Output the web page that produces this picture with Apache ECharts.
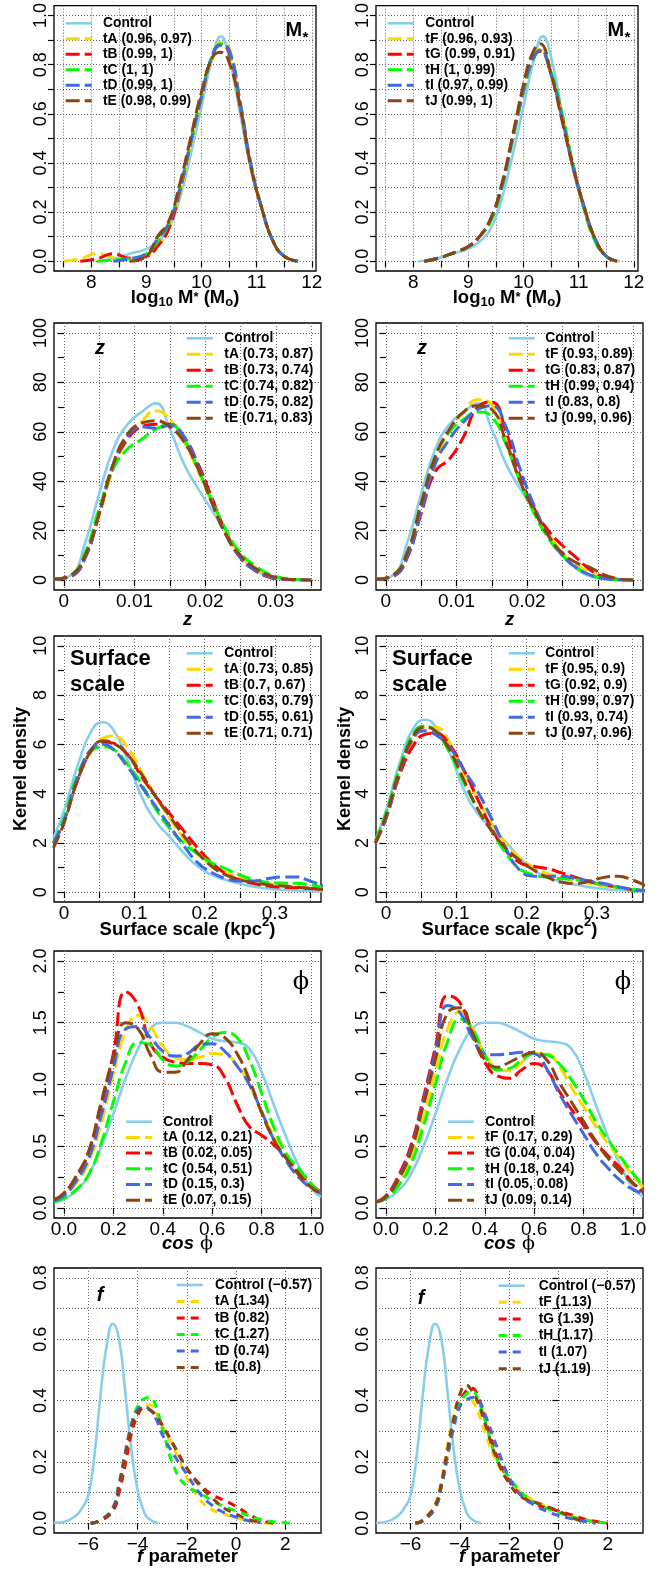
<!DOCTYPE html>
<html><head><meta charset="utf-8">
<script src="https://cdn.jsdelivr.net/npm/echarts@6/dist/echarts.min.js"></script>
<style>html,body{margin:0;padding:0;background:#fff}#c{width:664px;height:1573px}</style>
</head><body><div id="c"></div>
<script>
// ---------------- DATA ----------------
// Panel 1/2 : stellar mass
const mX  = [7.5, 7.8, 8.1, 8.4, 8.7, 9.0, 9.2, 9.4, 9.6, 9.8, 10.0, 10.2, 10.35, 10.5, 10.7, 10.9, 11.1, 11.3, 11.5, 11.75];
const mCtrl = [null, null, 0.0, 0.01, 0.03, 0.05, 0.08, 0.13, 0.25, 0.43, 0.63, 0.83, 0.915, 0.83, 0.6, 0.37, 0.21, 0.08, 0.02, 0.0];
const m1_tA = [0, 0.01, 0.03, 0.015, 0.01, 0.02, 0.06, 0.13, 0.27, 0.47, 0.66, 0.83, 0.89, 0.87, 0.64, 0.39, 0.21, 0.08, 0.02, 0];
const m1_tB = [null, 0, 0.01, 0.03, 0.012, 0.02, 0.06, 0.13, 0.28, 0.48, 0.67, 0.84, 0.88, 0.85, 0.63, 0.38, 0.21, 0.08, 0.02, 0];
const m1_tC = [null, null, 0, 0.005, 0.01, 0.03, 0.08, 0.15, 0.29, 0.48, 0.67, 0.84, 0.885, 0.86, 0.64, 0.38, 0.21, 0.08, 0.02, 0];
const m1_tD = [null, null, null, 0, 0.01, 0.03, 0.09, 0.15, 0.29, 0.48, 0.67, 0.84, 0.88, 0.86, 0.65, 0.39, 0.21, 0.08, 0.02, 0];
const m1_tE = [null, null, null, null, 0, 0.02, 0.1, 0.16, 0.31, 0.5, 0.69, 0.83, 0.85, 0.81, 0.63, 0.38, 0.21, 0.08, 0.02, 0];
const m2X  = [8.2, 8.5, 8.8, 9.0, 9.2, 9.4, 9.6, 9.8, 10.0, 10.15, 10.3, 10.5, 10.7, 10.9, 11.1, 11.3, 11.5, 11.7];
const m2_tF = [0, 0.015, 0.04, 0.06, 0.1, 0.17, 0.3, 0.5, 0.7, 0.82, 0.87, 0.76, 0.58, 0.38, 0.22, 0.09, 0.02, 0];
const m2_tG = [0, 0.015, 0.04, 0.06, 0.1, 0.17, 0.3, 0.5, 0.69, 0.81, 0.855, 0.76, 0.59, 0.39, 0.22, 0.09, 0.02, 0];
const m2_tH = [0, 0.015, 0.04, 0.06, 0.1, 0.16, 0.29, 0.49, 0.69, 0.81, 0.86, 0.77, 0.6, 0.39, 0.21, 0.08, 0.02, 0];
const m2_tI = [0, 0.015, 0.04, 0.06, 0.1, 0.17, 0.3, 0.5, 0.7, 0.815, 0.86, 0.76, 0.58, 0.38, 0.22, 0.09, 0.02, 0];
const m2_tJ = [0, 0.015, 0.04, 0.06, 0.1, 0.17, 0.31, 0.51, 0.72, 0.84, 0.885, 0.76, 0.57, 0.38, 0.22, 0.09, 0.02, 0];

// Panel 3/4 : redshift z
const zX   = [-0.0015, 0.001, 0.003, 0.005, 0.007, 0.009, 0.011, 0.013, 0.015, 0.017, 0.019, 0.021, 0.023, 0.025, 0.027, 0.029, 0.031, 0.033, 0.035];
const zCtrl = [0.3, 2, 15, 35, 53, 63, 68, 71.5, 61, 47, 37, 28, 19, 10, 4.5, 1.5, 0.4, 0.1, null];
const z3_tA = [0.3, 1.5, 9, 26, 45, 57, 64, 68.5, 65, 56, 44, 31, 19, 10, 5, 2, 0.7, 0.2, 0];
const z3_tB = [0.3, 1.5, 9, 27, 46, 57, 62, 63, 63, 58, 47, 33, 19, 9, 4, 1.2, 0.3, 0, null];
const z3_tC = [0.3, 2, 11, 29, 45, 53, 57, 61, 63, 57, 45, 32, 20, 11, 6, 2.5, 0.8, 0.2, 0];
const z3_tD = [0.3, 1.5, 9, 27, 47, 58, 62, 61.5, 62.5, 58, 46, 31, 18, 9, 4, 1.5, 0.5, 0.1, 0];
const z3_tE = [0.3, 2, 10, 27, 47, 59, 63.5, 64.5, 62, 56, 45, 31, 18, 10, 5, 2, 0.6, 0.2, 0];
const z4_tF = [0.3, 1.5, 10, 29, 48, 60, 68, 73, 71, 56, 40, 28, 19, 11, 6, 3, 1, 0.3, 0];
const z4_tG = [0.3, 1.5, 9, 27, 44, 49, 58, 70, 72, 60, 42, 29, 20, 14, 9, 4, 1.2, 0.3, 0];
const z4_tH = [0.3, 2, 11, 31, 50, 60, 65, 68, 66, 55, 40, 27, 17, 10, 5, 2, 0.6, 0.1, 0];
const z4_tI = [0.3, 1.5, 9, 28, 47, 57, 64, 69, 70.5, 62, 45, 30, 18, 10, 5, 2, 0.6, 0.1, 0];
const z4_tJ = [0.3, 2, 11, 31, 50, 61, 68, 70.5, 69, 56, 40, 28, 18, 11, 7, 5, 2, 0.5, 0];

// Panel 5/6 : surface scale
const sX   = [-0.015, 0, 0.02, 0.04, 0.055, 0.07, 0.09, 0.11, 0.13, 0.15, 0.17, 0.19, 0.21, 0.23, 0.25, 0.27, 0.29, 0.31, 0.33, 0.35, 0.37];
const s5_ctrl = [2.2, 3.3, 5.2, 6.6, 6.9, 6.6, 5.4, 3.9, 2.9, 2.25, 1.6, 1.05, 0.7, 0.5, 0.35, 0.22, 0.14, 0.1, 0.07, 0.05, 0.04];
const s5_tA = [2.0, 2.9, 4.6, 5.8, 6.25, 6.35, 5.9, 4.9, 3.9, 3.0, 2.2, 1.55, 1.1, 0.8, 0.6, 0.45, 0.35, 0.28, 0.22, 0.16, 0.12];
const s5_tB = [2.0, 2.9, 4.6, 5.8, 6.1, 6.05, 5.6, 4.7, 3.9, 3.2, 2.5, 1.8, 1.2, 0.75, 0.5, 0.35, 0.25, 0.2, 0.18, 0.15, 0.12];
const s5_tC = [2.0, 3.0, 4.8, 5.75, 5.9, 5.8, 5.2, 4.4, 3.4, 2.6, 2.0, 1.55, 1.2, 0.95, 0.7, 0.5, 0.4, 0.37, 0.36, 0.3, 0.2];
const s5_tD = [2.0, 2.9, 4.7, 5.85, 6.0, 5.8, 5.1, 4.3, 3.5, 2.7, 1.9, 1.2, 0.8, 0.55, 0.45, 0.45, 0.55, 0.62, 0.62, 0.45, 0.25];
const s5_tE = [1.8, 2.8, 4.6, 5.8, 6.15, 6.05, 5.6, 4.8, 3.9, 3.1, 2.3, 1.6, 1.05, 0.7, 0.5, 0.38, 0.3, 0.25, 0.2, 0.15, 0.1];
const s6_ctrl = [2.1, 3.3, 5.3, 6.7, 7.0, 6.75, 5.7, 4.2, 3.2, 2.6, 2.05, 1.4, 0.9, 0.6, 0.42, 0.3, 0.2, 0.13, 0.08, 0.05, 0.03];
const s6_tF = [2.0, 3.0, 4.8, 6.2, 6.7, 6.7, 6.1, 4.9, 3.8, 2.8, 2.0, 1.4, 1.0, 0.75, 0.6, 0.45, 0.35, 0.25, 0.18, 0.1, 0.05];
const s6_tG = [2.0, 3.0, 4.8, 6.0, 6.4, 6.45, 6.0, 5.0, 3.8, 2.6, 1.7, 1.2, 1.05, 0.95, 0.78, 0.6, 0.42, 0.3, 0.2, 0.1, 0.05];
const s6_tH = [2.1, 3.2, 5.1, 6.5, 6.75, 6.55, 5.7, 4.5, 3.4, 2.5, 1.6, 0.95, 0.7, 0.6, 0.55, 0.5, 0.42, 0.3, 0.2, 0.12, 0.06];
const s6_tI = [2.0, 3.0, 4.9, 6.3, 6.55, 6.4, 5.9, 5.0, 4.1, 3.0, 1.8, 0.9, 0.65, 0.65, 0.65, 0.55, 0.45, 0.35, 0.22, 0.12, 0.05];
const s6_tJ = [2.0, 3.1, 5.0, 6.4, 6.7, 6.55, 5.8, 4.6, 3.4, 2.5, 1.8, 1.3, 0.9, 0.6, 0.4, 0.35, 0.45, 0.6, 0.65, 0.5, 0.25];

// Panel 7/8 : cos phi
const pX   = [-0.04, 0, 0.05, 0.1, 0.15, 0.2, 0.25, 0.3, 0.35, 0.4, 0.45, 0.5, 0.55, 0.6, 0.65, 0.7, 0.75, 0.8, 0.85, 0.9, 0.95, 1.0, 1.04];
const pCtrl = [0.05, 0.07, 0.14, 0.27, 0.49, 0.76, 1.05, 1.29, 1.45, 1.5, 1.5, 1.47, 1.42, 1.37, 1.35, 1.34, 1.29, 1.1, 0.83, 0.57, 0.34, 0.16, 0.09];
const p7_tA = [0.06, 0.1, 0.2, 0.37, 0.68, 1.08, 1.43, 1.56, 1.47, 1.31, 1.22, 1.2, 1.22, 1.25, 1.24, 1.16, 1.0, 0.78, 0.58, 0.42, 0.27, 0.16, 0.11];
const p7_tB = [0.06, 0.12, 0.25, 0.45, 0.82, 1.25, 1.75, 1.64, 1.33, 1.22, 1.18, 1.17, 1.17, 1.16, 1.06, 0.84, 0.66, 0.59, 0.51, 0.41, 0.29, 0.19, 0.13];
const p7_tC = [0.05, 0.08, 0.15, 0.27, 0.52, 0.86, 1.18, 1.34, 1.32, 1.2, 1.15, 1.18, 1.28, 1.38, 1.42, 1.38, 1.2, 0.93, 0.65, 0.44, 0.32, 0.2, 0.12];
const p7_tD = [0.06, 0.1, 0.22, 0.4, 0.74, 1.13, 1.45, 1.47, 1.38, 1.27, 1.23, 1.25, 1.32, 1.33, 1.27, 1.15, 1.0, 0.78, 0.55, 0.38, 0.25, 0.16, 0.12];
const p7_tE = [0.07, 0.12, 0.26, 0.46, 0.85, 1.22, 1.5, 1.45, 1.24, 1.1, 1.1, 1.2, 1.33, 1.41, 1.38, 1.25, 1.04, 0.77, 0.55, 0.4, 0.27, 0.17, 0.12];
const p8_tF = [0.05, 0.08, 0.2, 0.4, 0.72, 1.1, 1.45, 1.59, 1.45, 1.25, 1.13, 1.11, 1.18, 1.25, 1.25, 1.15, 0.98, 0.82, 0.66, 0.52, 0.39, 0.26, 0.17];
const p8_tG = [0.05, 0.1, 0.26, 0.5, 0.88, 1.3, 1.72, 1.66, 1.4, 1.18, 1.07, 1.05, 1.12, 1.17, 1.12, 0.95, 0.8, 0.67, 0.53, 0.42, 0.32, 0.2, 0.13];
const p8_tH = [0.05, 0.08, 0.18, 0.35, 0.65, 1.0, 1.35, 1.53, 1.45, 1.24, 1.12, 1.13, 1.2, 1.25, 1.24, 1.17, 1.04, 0.88, 0.7, 0.55, 0.41, 0.28, 0.18];
const p8_tI = [0.05, 0.09, 0.24, 0.47, 0.85, 1.25, 1.64, 1.58, 1.38, 1.25, 1.24, 1.25, 1.26, 1.25, 1.13, 0.93, 0.76, 0.6, 0.44, 0.32, 0.22, 0.15, 0.12];
const p8_tJ = [0.05, 0.09, 0.23, 0.45, 0.82, 1.2, 1.58, 1.62, 1.42, 1.2, 1.14, 1.18, 1.23, 1.26, 1.2, 1.02, 0.86, 0.7, 0.54, 0.4, 0.29, 0.2, 0.14];

// Panel 9/10 : f parameter
const fCX  = [-7.4, -7, -6.5, -6.25, -6, -5.75, -5.5, -5.25, -5, -4.75, -4.5, -4.25, -4, -3.75, -3.5, -3.15];
const fCtrl = [0.001, 0.004, 0.025, 0.05, 0.09, 0.22, 0.42, 0.58, 0.65, 0.6, 0.43, 0.24, 0.11, 0.04, 0.012, 0.0];
const f9X  = [-5.9, -5.5, -5, -4.75, -4.5, -4.25, -4, -3.75, -3.5, -3.25, -3, -2.5, -2, -1.5, -1, -0.5, 0, 0.5, 1, 1.5, 2.2];
const f9_tA = [0, 0.01, 0.045, 0.12, 0.22, 0.31, 0.36, 0.385, 0.385, 0.36, 0.32, 0.24, 0.15, 0.08, 0.045, 0.03, 0.018, 0.008, 0.002, 0, null];
const f9_tB = [0, 0.008, 0.04, 0.1, 0.19, 0.29, 0.35, 0.375, 0.37, 0.35, 0.32, 0.25, 0.18, 0.13, 0.095, 0.075, 0.055, 0.03, 0.01, 0, null];
const f9_tC = [0, 0.01, 0.05, 0.12, 0.22, 0.32, 0.38, 0.405, 0.41, 0.38, 0.31, 0.18, 0.12, 0.1, 0.075, 0.055, 0.04, 0.025, 0.012, 0.005, 0];
const f9_tD = [0, 0.01, 0.05, 0.13, 0.23, 0.32, 0.37, 0.38, 0.37, 0.34, 0.29, 0.22, 0.16, 0.1, 0.06, 0.035, 0.02, 0.008, 0.002, null, null];
const f9_tE = [0, 0.01, 0.045, 0.12, 0.22, 0.31, 0.36, 0.375, 0.37, 0.35, 0.32, 0.25, 0.18, 0.125, 0.085, 0.05, 0.03, 0.012, 0.004, null, null];
const f10X = [-5.8, -5.5, -5, -4.75, -4.5, -4.25, -4, -3.75, -3.5, -3.25, -3, -2.5, -2, -1.5, -1, -0.5, 0, 0.5, 1, 1.5, 2];
const f10_tF = [0, 0.01, 0.06, 0.14, 0.25, 0.35, 0.41, 0.42, 0.4, 0.36, 0.3, 0.2, 0.14, 0.1, 0.075, 0.055, 0.04, 0.025, 0.01, 0.003, null];
const f10_tG = [0, 0.008, 0.05, 0.12, 0.22, 0.32, 0.39, 0.43, 0.44, 0.41, 0.35, 0.22, 0.14, 0.09, 0.065, 0.05, 0.04, 0.028, 0.015, 0.006, 0];
const f10_tH = [0, 0.008, 0.05, 0.12, 0.22, 0.32, 0.39, 0.42, 0.43, 0.4, 0.34, 0.21, 0.15, 0.1, 0.07, 0.05, 0.035, 0.022, 0.012, 0.005, 0];
const f10_tI = [0, 0.008, 0.05, 0.12, 0.22, 0.31, 0.38, 0.4, 0.41, 0.4, 0.36, 0.25, 0.15, 0.09, 0.06, 0.04, 0.025, 0.015, 0.006, 0, null];
const f10_tJ = [0, 0.01, 0.06, 0.13, 0.24, 0.34, 0.42, 0.45, 0.43, 0.39, 0.33, 0.21, 0.13, 0.085, 0.07, 0.055, 0.04, 0.02, 0.005, null, null];

// Tick / label / grid values
const mXTicks = [7.5, 8, 8.5, 9, 9.5, 10, 10.5, 11, 11.5, 12];
const mXLabels = [8, 9, 10, 11, 12];
const mYTicks = [0, 0.1, 0.2, 0.3, 0.4, 0.5, 0.6, 0.7, 0.8, 0.9, 1.0];
const mYLabels = [0, 0.2, 0.4, 0.6, 0.8, 1.0];
const zXTicks = [0, 0.005, 0.01, 0.015, 0.02, 0.025, 0.03, 0.035];
const zXLabels = [0, 0.01, 0.02, 0.03];
const zYTicks = [0, 10, 20, 30, 40, 50, 60, 70, 80, 90, 100];
const zYLabels = [0, 20, 40, 60, 80, 100];
const sXTicks = [0, 0.05, 0.1, 0.15, 0.2, 0.25, 0.3, 0.35];
const sXLabels = [0, 0.1, 0.2, 0.3];
const sYTicks = [0, 1, 2, 3, 4, 5, 6, 7, 8, 9, 10];
const sYLabels = [0, 2, 4, 6, 8, 10];
const pXLabels = [0, 0.2, 0.4, 0.6, 0.8, 1.0];
const pYTicks = [0, 0.25, 0.5, 0.75, 1.0, 1.25, 1.5, 1.75, 2.0];
const pYLabels = [0, 0.5, 1.0, 1.5, 2.0];
const fXLabels = [-6, -4, -2, 0, 2];
const fYTicks = [0, 0.1, 0.2, 0.3, 0.4, 0.5, 0.6, 0.7, 0.8];
const fYLabels = [0, 0.2, 0.4, 0.6, 0.8];

// Legend labels
const leg1 = ['Control', 'tA (0.96, 0.97)', 'tB (0.99, 1)', 'tC (1, 1)', 'tD (0.99, 1)', 'tE (0.98, 0.99)'];
const leg2 = ['Control', 'tF (0.96, 0.93)', 'tG (0.99, 0.91)', 'tH (1, 0.99)', 'tI (0.97, 0.99)', 'tJ (0.99, 1)'];
const leg3 = ['Control', 'tA (0.73, 0.87)', 'tB (0.73, 0.74)', 'tC (0.74, 0.82)', 'tD (0.75, 0.82)', 'tE (0.71, 0.83)'];
const leg4 = ['Control', 'tF (0.93, 0.89)', 'tG (0.83, 0.87)', 'tH (0.99, 0.94)', 'tI (0.83, 0.8)', 'tJ (0.99, 0.96)'];
const leg5 = ['Control', 'tA (0.73, 0.85)', 'tB (0.7, 0.67)', 'tC (0.63, 0.79)', 'tD (0.55, 0.61)', 'tE (0.71, 0.71)'];
const leg6 = ['Control', 'tF (0.95, 0.9)', 'tG (0.92, 0.9)', 'tH (0.99, 0.97)', 'tI (0.93, 0.74)', 'tJ (0.97, 0.96)'];
const leg7 = ['Control', 'tA (0.12, 0.21)', 'tB (0.02, 0.05)', 'tC (0.54, 0.51)', 'tD (0.15, 0.3)', 'tE (0.07, 0.15)'];
const leg8 = ['Control', 'tF (0.17, 0.29)', 'tG (0.04, 0.04)', 'tH (0.18, 0.24)', 'tI (0.05, 0.08)', 'tJ (0.09, 0.14)'];
const leg9 = ['Control (\u22120.57)', 'tA (1.34)', 'tB (0.82)', 'tC (1.27)', 'tD (0.74)', 'tE (0.8)'];
const leg10 = ['Control (\u22120.57)', 'tF (1.13)', 'tG (1.39)', 'tH (1.17)', 'tI (1.07)', 'tJ (1.19)'];

// ---------------- STYLE / LAYOUT ----------------
const FONT = "'Liberation Sans', Arial, sans-serif";
const COLORS = ['#87CEEB', '#FFD700', '#FF0000', '#00FF00', '#4169E1', '#8B4513'];
const f1 = v => v.toFixed(1);
const fs = v => String(v);
const fneg = v => (v < 0 ? '\u2212' + Math.abs(v) : String(v));

const panels = [
  {g:[54,5,262,266], xr:[7.324,12.076], yr:[-0.04,1.04], xt:mXTicks, xg:mXTicks, xl:mXLabels, yt:mYTicks, yg:mYTicks, yl:mYLabels, xf:fs, yf:f1,
   s:[[mX,mCtrl],[mX,m1_tA],[mX,m1_tB],[mX,m1_tC],[mX,m1_tD],[mX,m1_tE]], leg:leg1, L:{x:65.7, tx:103, y:23.3, dy:15.5}, dash:[14,5], tOff:26.8},
  {g:[376,5,262,266], xr:[7.324,12.076], yr:[-0.04,1.04], xt:mXTicks, xg:mXTicks, xl:mXLabels, yt:mYTicks, yg:mYTicks, yl:mYLabels, xf:fs, yf:f1,
   s:[[mX,mCtrl],[m2X,m2_tF],[m2X,m2_tG],[m2X,m2_tH],[m2X,m2_tI],[m2X,m2_tJ]], leg:leg2, L:{x:387.7, tx:425.3, y:23.3, dy:15.5}, dash:[14,5], tOff:26.8},
  {g:[54,323,267,267], xr:[-0.0014,0.0364], yr:[-4,104], xt:zXTicks, xg:zXTicks, xl:zXLabels, yt:zYTicks, yg:zYLabels, yl:zYLabels, xf:fs, yf:fs,
   s:[[zX,zCtrl],[zX,z3_tA],[zX,z3_tB],[zX,z3_tC],[zX,z3_tD],[zX,z3_tE]], leg:leg3, L:{x:186.7, tx:224.3, y:338.3, dy:16}, dash:[14,5], tOff:29.5},
  {g:[376,323,267,267], xr:[-0.0014,0.0364], yr:[-4,104], xt:zXTicks, xg:zXTicks, xl:zXLabels, yt:zYTicks, yg:zYLabels, yl:zYLabels, xf:fs, yf:fs,
   s:[[zX,zCtrl],[zX,z4_tF],[zX,z4_tG],[zX,z4_tH],[zX,z4_tI],[zX,z4_tJ]], leg:leg4, L:{x:508.7, tx:545.3, y:338.3, dy:16}, dash:[14,5], tOff:29.5},
  {g:[54,636,267,266], xr:[-0.0142,0.3655], yr:[-0.4,10.4], xt:sXTicks, xg:sXTicks, xl:sXLabels, yt:sYTicks, yg:sYLabels, yl:sYLabels, xf:fs, yf:fs,
   s:[[sX,s5_ctrl],[sX,s5_tA],[sX,s5_tB],[sX,s5_tC],[sX,s5_tD],[sX,s5_tE]], leg:leg5, L:{x:186.7, tx:224.3, y:653.3, dy:16}, dash:[14,5], tOff:27.8, yname:32.6},
  {g:[376,636,267,266], xr:[-0.0142,0.3655], yr:[-0.4,10.4], xt:sXTicks, xg:sXTicks, xl:sXLabels, yt:sYTicks, yg:sYLabels, yl:sYLabels, xf:fs, yf:fs,
   s:[[sX,s6_ctrl],[sX,s6_tF],[sX,s6_tG],[sX,s6_tH],[sX,s6_tI],[sX,s6_tJ]], leg:leg6, L:{x:508.7, tx:545.3, y:653.3, dy:16}, dash:[14,5], tOff:27.8, yname:31},
  {g:[54,951,267,267], xr:[-0.04,1.04], yr:[-0.08,2.08], xt:pXLabels, xg:pXLabels, xl:pXLabels, yt:pYTicks, yg:pYLabels, yl:pYLabels, xf:f1, yf:f1,
   s:[[pX,pCtrl],[pX,p7_tA],[pX,p7_tB],[pX,p7_tC],[pX,p7_tD],[pX,p7_tE]], leg:leg7, L:{x:126, tx:163.3, y:1121.7, dy:15.7}, dash:[14,5], tOff:25.8},
  {g:[376,951,267,267], xr:[-0.04,1.04], yr:[-0.08,2.08], xt:pXLabels, xg:pXLabels, xl:pXLabels, yt:pYTicks, yg:pYLabels, yl:pYLabels, xf:f1, yf:f1,
   s:[[pX,pCtrl],[pX,p8_tF],[pX,p8_tG],[pX,p8_tH],[pX,p8_tI],[pX,p8_tJ]], leg:leg8, L:{x:448, tx:485.3, y:1121.7, dy:15.7}, dash:[14,5], tOff:25.8},
  {g:[54,1268,267,265], xr:[-7.39,3.45], yr:[-0.032,0.832], xt:fXLabels, xg:fXLabels, xl:fXLabels, yt:fYTicks, yg:fYTicks, yl:fYLabels, xf:fneg, yf:f1,
   s:[[fCX,fCtrl],[f9X,f9_tA],[f9X,f9_tB],[f9X,f9_tC],[f9X,f9_tD],[f9X,f9_tE]], leg:leg9, L:{x:176.7, tx:215, y:1285, dy:16.5}, dash:[8,6], tOff:23.8},
  {g:[376,1268,267,265], xr:[-7.4,3.43], yr:[-0.032,0.832], xt:fXLabels, xg:fXLabels, xl:fXLabels, yt:fYTicks, yg:fYTicks, yl:fYLabels, xf:fneg, yf:f1,
   s:[[fCX,fCtrl],[f10X,f10_tF],[f10X,f10_tG],[f10X,f10_tH],[f10X,f10_tI],[f10X,f10_tJ]], leg:leg10, L:{x:498.7, tx:538.7, y:1285.7, dy:16.6}, dash:[8,6], tOff:23.8}
];

// axis titles (rich text) by row
const B = {fontFamily:FONT, fontWeight:'bold', fontSize:18.5, lineHeight:30, fill:'#000', color:'#000'};
const richTitle = {
  b: B,
  bi: Object.assign({}, B, {fontStyle:'italic'}),
  sub: {fontFamily:FONT, fontWeight:'bold', fontSize:13, lineHeight:20, padding:[10,0,0,0], color:'#000'},
  st: {fontFamily:FONT, fontWeight:'bold', fontSize:13, lineHeight:30, color:'#000'},
  sup: {fontFamily:FONT, fontWeight:'bold', fontSize:13, lineHeight:15, padding:[0,0,15,0], color:'#000'},
  ph: {fontFamily:"'DejaVu Serif', serif", fontWeight:'normal', fontSize:19, lineHeight:30, color:'#000'}
};
const rowTitles = [
  '{b|log}{sub|10}{b| M}{st|*}{b| (M}{sub|o}{b|)}',
  '{bi|z}',
  '{b|Surface scale (kpc}{sup|2}{b|)}',
  '{bi|cos}{ph| \u03d5}',
  '{bi|f}{b| parameter}'
];

// ---------------- BUILD OPTION ----------------
const grids = [], xAxes = [], yAxes = [], series = [], graphics = [];
panels.forEach((p, i) => {
  const [gl, gt, gw, gh] = p.g;
  grids.push({left:gl, top:gt, width:gw, height:gh, show:true, borderColor:'#000', borderWidth:1.3, backgroundColor:'transparent'});
  const tickStyle = {color:'#000', width:1.2};
  const gridStyle = {color:'#666', width:1, type:[1,2]};
  xAxes.push({type:'value', gridIndex:i, min:p.xr[0], max:p.xr[1], position:'bottom',
    axisLine:{show:false}, splitLine:{show:false},
    axisTick:{show:true, length:6, lineStyle:tickStyle, customValues:p.xt},
    axisLabel:{show:true, customValues:p.xl, formatter:p.xf, color:'#000', fontSize:19, fontFamily:FONT, margin:2}});
  yAxes.push({type:'value', gridIndex:i, min:p.yr[0], max:p.yr[1], position:'left',
    axisLine:{show:false}, splitLine:{show:false},
    axisTick:{show:true, length:6, lineStyle:tickStyle, customValues:p.yt},
    axisLabel:{show:true, customValues:p.yl, formatter:p.yf, rotate:90, color:'#000', fontSize:18, fontFamily:FONT, margin:3.5}});
  xAxes.push({type:'value', gridIndex:i, min:p.xr[0], max:p.xr[1], position:'bottom',
    axisLine:{show:false}, axisLabel:{show:false}, axisTick:{show:false, customValues:p.xg},
    splitLine:{show:true, lineStyle:gridStyle}});
  yAxes.push({type:'value', gridIndex:i, min:p.yr[0], max:p.yr[1], position:'left',
    axisLine:{show:false}, axisLabel:{show:false}, axisTick:{show:false, customValues:p.yg},
    splitLine:{show:true, lineStyle:gridStyle}});

  p.s.forEach((pair, k) => {
    const [xs, ys] = pair;
    const data = xs.map((x, j) => [x, ys[j]]).filter(d => d[1] !== null && d[1] !== undefined);
    series.push({type:'line', name:p.leg[k], xAxisIndex:2*i, yAxisIndex:2*i, data,
      showSymbol:false, symbol:'none', smooth:0.5, silent:true, clip:true,
      lineStyle:{color:COLORS[k], width:k === 0 ? 2.6 : 3, type:k === 0 ? 'solid' : p.dash, cap:'butt', join:'round'},
      z: 2 + k});
    const ly = p.L.y + k * p.L.dy;
    graphics.push({type:'line', z:100, silent:true, shape:{x1:p.L.x, y1:ly, x2:p.L.x + 26, y2:ly},
      style:{stroke:COLORS[k], lineWidth:k === 0 ? 2.6 : 3, lineDash:k === 0 ? null : p.dash}});
    graphics.push({type:'text', z:100, silent:true, x:p.L.tx, y:ly,
      style:{text:p.leg[k], fontFamily:FONT, fontWeight:'bold', fontSize:13.8, fill:'#000', align:'left', verticalAlign:'middle'}});
  });

  const row = Math.floor(i / 2);
  graphics.push({type:'text', z:100, silent:true, x:gl + gw / 2, y:gt + gh + p.tOff,
    style:{text:rowTitles[row], rich:richTitle, align:'center', verticalAlign:'middle', fill:'#000'}});
  if (p.yname) {
    graphics.push({type:'text', z:100, silent:true, x:gl - p.yname, y:gt + gh / 2, rotation:Math.PI / 2,
      style:{text:'Kernel density', fontFamily:FONT, fontWeight:'bold', fontSize:18, fill:'#000', align:'center', verticalAlign:'middle'}});
  }
});

// panel labels
const bold = (s, sz, extra) => Object.assign({text:s, fontFamily:FONT, fontWeight:'bold', fontSize:sz, fill:'#000', verticalAlign:'middle'}, extra || {});
[285.5, 607.5].forEach(x => {
  graphics.push({type:'text', z:100, x:x, y:30.8, style:bold('M', 20, {align:'left'})});
  graphics.push({type:'text', z:100, x:x + 17, y:37.5, style:bold('*', 15, {align:'left'})});
});
[[100, 348.3], [422, 348.3]].forEach(([x, y]) => {
  graphics.push({type:'text', z:100, x, y, style:bold('z', 20, {align:'center', fontStyle:'italic'})});
});
[70, 392].forEach(x => {
  graphics.push({type:'text', z:100, x, y:659.4, style:bold('Surface', 22, {align:'left'})});
  graphics.push({type:'text', z:100, x, y:685.4, style:bold('scale', 22, {align:'left'})});
});
[[301, 983], [623, 983]].forEach(([x, y]) => {
  graphics.push({type:'text', z:100, x, y, style:{text:'\u03d5', fontFamily:"'DejaVu Serif', serif", fontSize:24, fill:'#000', align:'center', verticalAlign:'middle'}});
});
[[100, 1295], [421, 1298]].forEach(([x, y]) => {
  graphics.push({type:'text', z:100, x, y, style:bold('f', 20, {align:'center', fontStyle:'italic'})});
});

const chart = echarts.init(document.getElementById('c'), null, {renderer:'canvas'});
chart.setOption({
  animation:false,
  backgroundColor:'#fff',
  grid:grids, xAxis:xAxes, yAxis:yAxes, series, graphic:{elements:graphics}
});
</script>
</body></html>
